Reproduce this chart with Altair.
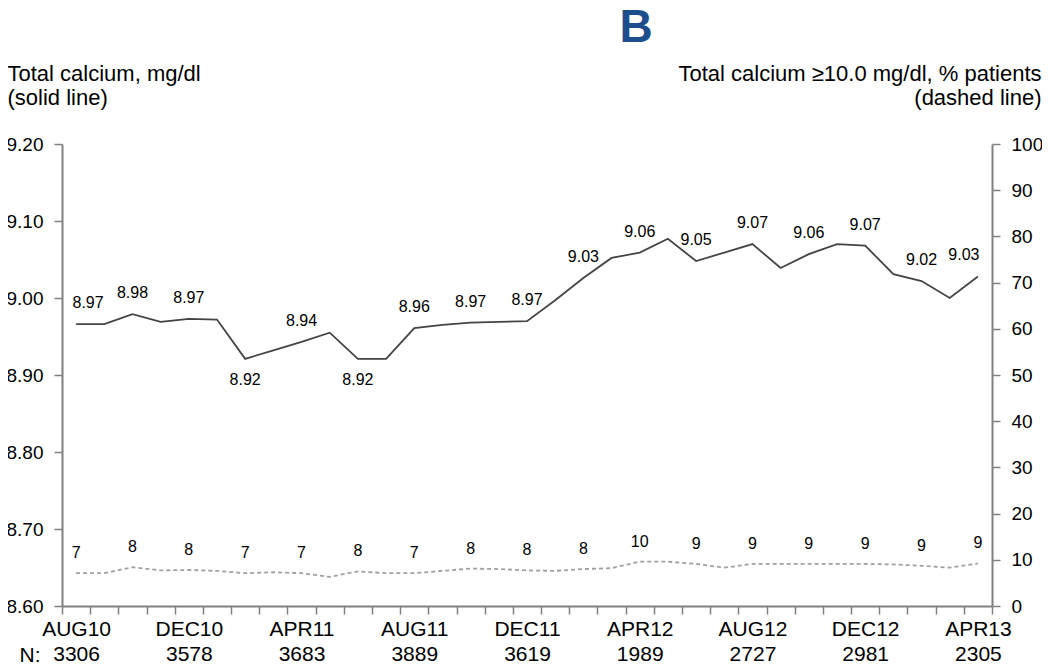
import json
import altair as alt
import pandas as pd

# ---- data ----
calcium = [8.966, 8.966, 8.979, 8.969, 8.973, 8.972, 8.921, 8.932, 8.943, 8.955,
           8.921, 8.921, 8.961, 8.965, 8.968, 8.969, 8.970, 8.997, 9.026, 9.052,
           9.059, 9.077, 9.048, 9.059, 9.070, 9.039, 9.057, 9.070, 9.068, 9.031,
           9.022, 9.000, 9.028]
pct_high = [7.1, 7.1, 8.4, 7.7, 7.8, 7.6, 7.1, 7.3, 7.1, 6.3, 7.5, 7.1, 7.1, 7.6,
            8.1, 8.0, 7.7, 7.6, 8.0, 8.2, 9.6, 9.6, 9.1, 8.3, 9.1, 9.1, 9.1, 9.1,
            9.1, 9.0, 8.7, 8.3, 9.2]
calcium_labels = ["8.97", "8.98", "8.97", "8.92", "8.94", "8.92", "8.96", "8.97", "8.97",
                  "9.03", "9.06", "9.05", "9.07", "9.06", "9.07", "9.02", "9.03"]
pct_labels = ["7", "8", "8", "7", "7", "8", "7", "8", "8",
              "8", "10", "9", "9", "9", "9", "9", "9"]
month_ticks = ["AUG10", "DEC10", "APR11", "AUG11", "DEC11", "APR12", "AUG12", "DEC12", "APR13"]
n_counts = ["3306", "3578", "3683", "3889", "3619", "1989", "2727", "2981", "2305"]
labels_below = [6, 10]  # month indices whose calcium label sits under the line

months_idx = list(range(len(calcium)))
df = pd.DataFrame({"k": months_idx, "calcium": calcium, "pct": pct_high})
lab_idx = months_idx[::2]
df_lab = pd.DataFrame({
    "k": lab_idx,
    "calcium": [calcium[i] for i in lab_idx],
    "pct": [pct_high[i] for i in lab_idx],
    "calc_label": calcium_labels,
    "pct_label": pct_labels,
})

W, H = 930, 462
FONT = "Liberation Sans"
band = W / len(calcium)

label_expr = (
    f"(datum.value + 0.5) % 4 === 0 && datum.value < 32 ? "
    f"[{json.dumps(month_ticks)}[(datum.value + 0.5) / 4], "
    f"{json.dumps(n_counts)}[(datum.value + 0.5) / 4]] : ''"
)

x_enc = alt.X(
    "k:Q",
    scale=alt.Scale(domain=[-0.5, len(calcium) - 0.5], nice=False, zero=False),
    axis=alt.Axis(
        values=[i - 0.5 for i in range(len(calcium) + 1)],
        labelExpr=label_expr,
        labelOffset=band / 2,
        labelFontSize=21,
        labelLineHeight=25,
        labelPadding=4,
        labelOverlap=False,
        labelFlush=False,
        labelBound=False,
        tickSize=8,
        title="N:",
        titleFontSize=21,
        titleFontWeight="normal",
        titleAngle=0,
        titleAlign="left",
        titleBaseline="alphabetic",
        titleX=-43,
        titleY=55,
        grid=False,
    ),
)

y_left = alt.Y(
    "calcium:Q",
    scale=alt.Scale(domain=[8.6, 9.2], nice=False, zero=False),
    axis=alt.Axis(
        orient="left",
        values=[8.6, 8.7, 8.8, 8.9, 9.0, 9.1, 9.2],
        format=".2f",
        labelFontSize=19,
        labelPadding=11,
        tickSize=8,
        grid=False,
        title=["Total calcium, mg/dl", "(solid line)"],
        titleFontSize=22,
        titleFontWeight="normal",
        titleAngle=0,
        titleAlign="left",
        titleBaseline="alphabetic",
        titleLineHeight=24,
        titleX=-55,
        titleY=-64,
    ),
)

y_right = alt.Y(
    "pct:Q",
    scale=alt.Scale(domain=[0, 100], nice=False, zero=True),
    axis=alt.Axis(
        orient="right",
        values=list(range(0, 101, 10)),
        labelFontSize=19,
        labelPadding=11,
        tickSize=8,
        grid=False,
        title=["Total calcium \u226510.0 mg/dl, % patients", "(dashed line)"],
        titleFontSize=22,
        titleFontWeight="normal",
        titleAngle=0,
        titleAlign="right",
        titleBaseline="alphabetic",
        titleLineHeight=24,
        titleX=49,
        titleY=-64,
    ),
)

base = alt.Chart(df)
base_lab = alt.Chart(df_lab)

solid = base.mark_line(color="#444444", strokeWidth=1.8).encode(x=x_enc, y=y_left)
below_test = "indexof(" + json.dumps(labels_below) + ", datum.k) >= 0"
calc_text_kw = dict(font=FONT, fontSize=16, color="black", baseline="middle")
calc_above_mid = base_lab.mark_text(dy=-21, **calc_text_kw).encode(
    x=x_enc, y=y_left, text="calc_label:N"
).transform_filter(f"!({below_test}) && datum.k > 0 && datum.k < 32")
calc_above_first = base_lab.mark_text(dy=-21, dx=12, **calc_text_kw).encode(
    x=x_enc, y=y_left, text="calc_label:N"
).transform_filter("datum.k == 0")
calc_above_last = base_lab.mark_text(dy=-21, dx=-14, **calc_text_kw).encode(
    x=x_enc, y=y_left, text="calc_label:N"
).transform_filter("datum.k == 32")
calc_below = base_lab.mark_text(dy=21, **calc_text_kw).encode(
    x=x_enc, y=y_left, text="calc_label:N"
).transform_filter(below_test)

panel_letter = alt.Chart(pd.DataFrame({"t": ["B"]})).mark_text(
    font=FONT, fontSize=46, fontWeight="bold", color="#1c4d8c",
    align="center", baseline="alphabetic"
).encode(text="t:N", x=alt.value(574), y=alt.value(-102))

left = alt.layer(solid, calc_above_mid, calc_above_first, calc_above_last, calc_below, panel_letter)

dashed = base.mark_line(color="#a0a0a0", strokeWidth=1.8, strokeDash=[4, 3]).encode(
    x=x_enc, y=y_right
)
pct_text = base_lab.mark_text(font=FONT, fontSize=16, color="black", baseline="middle", dy=-20).encode(
    x=x_enc, y=y_right, text="pct_label:N"
)
right = alt.layer(dashed, pct_text)

chart = alt.layer(left, right).resolve_scale(y="independent").properties(
    width=W,
    height=H,
    autosize=alt.AutoSizeParams(type="none"),
    padding={"left": 54, "top": 136, "right": 50, "bottom": 58},
).configure_view(stroke=None).configure_axis(
    domainColor="#808080",
    domainWidth=2,
    tickColor="#808080",
    tickWidth=1.5,
    labelColor="black",
    titleColor="black",
    labelFont=FONT,
    titleFont=FONT,
)

chart.save("out.html", embed_options={"renderer": "svg", "actions": False})
